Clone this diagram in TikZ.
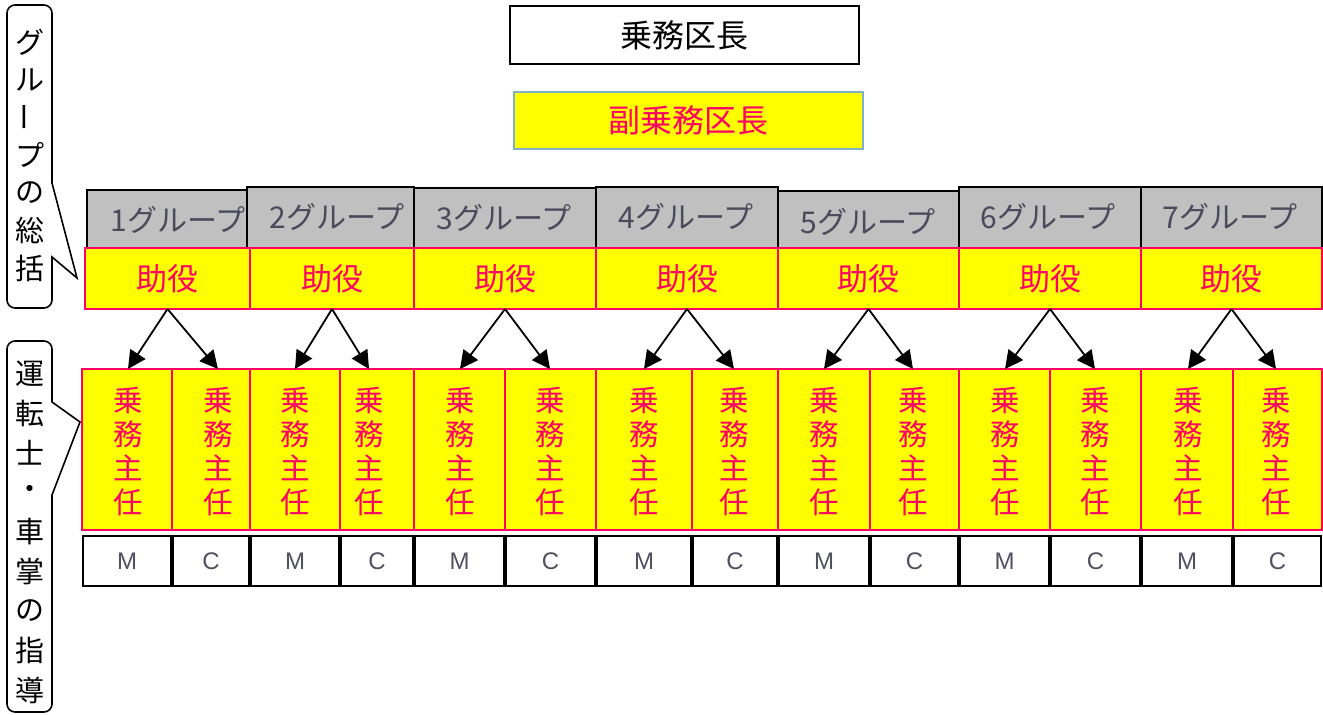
\documentclass[tikz,border=0pt]{standalone}
\usepackage{fontspec}
\usepackage{graphicx}
\setmainfont{Noto Sans CJK JP}
\newfontfamily\latf{Liberation Sans}
\usetikzlibrary{arrows.meta}
\definecolor{pinkc}{HTML}{FF0066}
\definecolor{yel}{HTML}{FFFF00}
\definecolor{hgray}{HTML}{C0C0C0}
\definecolor{htext}{HTML}{4A4A5C}
\definecolor{mctext}{HTML}{50505F}
\definecolor{blueb}{HTML}{7FB2C9}
\begin{document}
\begin{tikzpicture}[x=1pt,y=-1pt,
  box/.style={inner sep=0pt, outer sep=0pt, anchor=north west},
  hdr/.style={box, draw=black, line width=1.8pt, fill=hgray},
  htxt/.style={text=htext, font=\fontsize{30}{34}\selectfont, inner sep=0pt},
  jbox/.style={box, draw=pinkc, line width=1.5pt, fill=yel, text=pinkc, font=\fontsize{31}{34}\selectfont},
  sbox/.style={box, draw=pinkc, line width=1.5pt, fill=yel},
  stxt/.style={text=pinkc, align=center, inner sep=0pt, font=\fontsize{29.5}{34}\selectfont},
  mcbox/.style={box, draw=black, line width=2.2pt, fill=white, text=mctext, font=\latf\fontsize{24}{26}\selectfont},
  arr/.style={draw=black, line width=1.8pt, -{Triangle[length=18pt,width=18pt]}},
  callout/.style={draw=black, line width=1.6pt},
  ctxt/.style={inner sep=0pt, font=\fontsize{29}{32}\selectfont}
]
\useasboundingbox (0,0) rectangle (1323,715);

% top boxes
\node[box, draw=black, line width=2pt, fill=white, minimum width=349pt, minimum height=58pt,
  font=\fontsize{32}{36}\selectfont] (chief) at (510,6) {乗務区長};
\node[box, draw=blueb, line width=1.5pt, fill=yel, minimum width=349pt, minimum height=57pt,
  text=pinkc, font=\fontsize{32}{36}\selectfont] (vice) at (514,92) {副乗務区長};

% group headers
\foreach \g/\HL/\HR/\HT/\hx/\hy in {
1/87/247/190/178/220,
2/247/414/187/337/217,
3/414/596/188/504/218,
4/596/778/187/686/217,
5/778/959/191/868/222,
6/959/1141/187/1048/217,
7/1141/1322/187/1230/217}
{
  \pgfmathsetmacro\hw{\HR-\HL}
  \pgfmathsetmacro\hh{248-\HT}
  \node[hdr, minimum width=\hw pt, minimum height=\hh pt] (h\g) at (\HL,\HT) {};
  \node[htxt] (ht\g) at (\hx,\hy) {\g グループ};
}
% assistants, chiefs, M/C
\foreach \g/\L/\SL/\M/\R/\ta/\tb in {
1/85/82/172/250/128/218,
2/250/250/340/414/295/369,
3/414/414/505/596/460/550,
4/596/596/692/778/644/734,
5/778/778/870/959/824/913,
6/959/959/1050/1141/1005/1095,
7/1141/1141/1233/1322/1188/1276}
{
  \pgfmathsetmacro\jw{\R-\L}
  \node[jbox, minimum width=\jw pt, minimum height=61pt] (j\g) at (\L,248) {助役};
  \pgfmathsetmacro\aw{\M-\SL}
  \pgfmathsetmacro\bw{\R-\M}
  \node[sbox, minimum width=\aw pt, minimum height=161pt] (sa\g) at (\SL,369) {};
  \node[sbox, minimum width=\bw pt, minimum height=161pt] (sb\g) at (\M,369) {};
  \node[stxt] (ta\g) at (\ta,451) {乗\\務\\主\\任};
  \node[stxt] (tb\g) at (\tb,451) {乗\\務\\主\\任};
  \pgfmathsetmacro\mw{\M-\SL-2}
  \pgfmathsetmacro\cw{\R-\M-2}
  \pgfmathsetmacro\ml{\SL+1}
  \pgfmathsetmacro\cl{\M+1}
  \node[mcbox, minimum width=\mw pt, minimum height=50pt] (m\g) at (\ml,536) {M};
  \node[mcbox, minimum width=\cw pt, minimum height=50pt] (c\g) at (\cl,536) {C};
  \draw[arr] (j\g.south) -- (ta\g |- sa\g.north);
  \draw[arr] (j\g.south) -- (tb\g |- sb\g.north);
}

% callout 1
\draw[callout, rounded corners=8pt] (7,150) -- (7,5) -- (52,5) -- (52,120) [sharp corners] -- (52,183) -- (77,278) -- (52,257) [rounded corners=8pt] -- (52,308) -- (7,308) -- cycle;
\foreach \c [count=\i] in {グ,ル,\rotatebox[origin=c]{90}{ー},プ,の,総,括}
{
  \pgfmathsetmacro\cy{42+(\i-1)*37.7}
  \node[ctxt] (ga\i) at (29.5,\cy) {\c};
}

% callout 2
\draw[callout, rounded corners=8pt] (7,500) -- (7,341) -- (52,341) -- (52,380) [sharp corners] -- (52,402) -- (80,422) -- (52,495) [rounded corners=8pt] -- (52,712) -- (7,712) -- cycle;
\foreach \c [count=\i] in {運,転,士,・,車,掌,の,指,導}
{
  \pgfmathsetmacro\cy{374+(\i-1)*39.5}
  \node[ctxt] (gb\i) at (29.5,\cy) {\c};
}
\end{tikzpicture}
\end{document}
